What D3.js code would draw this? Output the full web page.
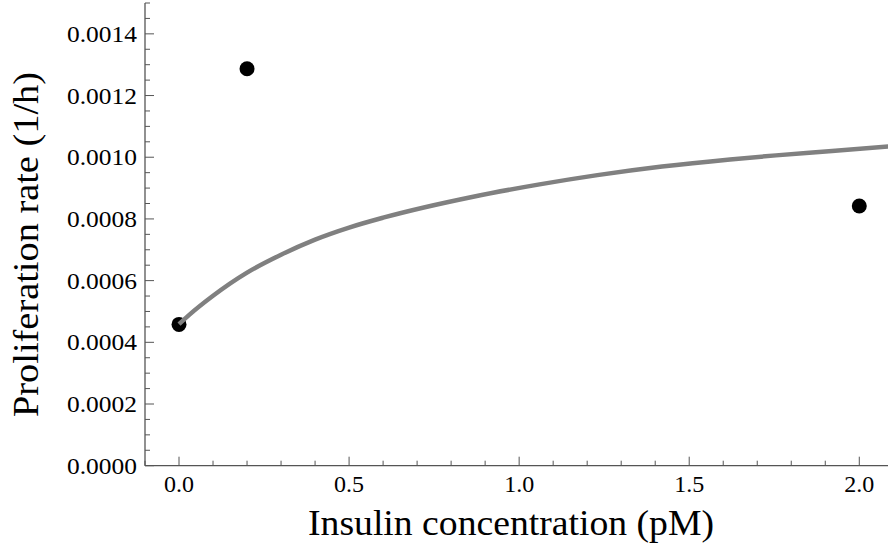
<!DOCTYPE html>
<html><head><meta charset="utf-8">
<script src="https://cdn.jsdelivr.net/npm/d3@7"></script>
<style>body{margin:0;background:#fff}svg{display:block}</style>
</head><body>
<script>
// Data points
const pointX = [0.0, 0.2, 2.0];
const pointY = [0.000458, 0.001287, 0.000842];
// Fitted curve
const curveX = [0.0, 0.03, 0.1, 0.2, 0.3, 0.4, 0.5, 0.6, 0.865, 1.06, 1.23, 1.42, 1.62, 1.755, 1.92, 2.1];
const curveY = [0.000459, 0.000489, 0.000551, 0.000626, 0.000684, 0.000733, 0.000772, 0.000804, 0.000872, 0.000912, 0.000942, 0.000970, 0.000993, 0.001006, 0.001020, 0.001036];
const xTicks = [0.0, 0.5, 1.0, 1.5, 2.0];
const yTicks = [0.0000, 0.0002, 0.0004, 0.0006, 0.0008, 0.0010, 0.0012, 0.0014];

const W = 888, H = 546;
const svg = d3.select("body").append("svg").attr("width", W).attr("height", H);
const x = d3.scaleLinear().domain([-0.1, 2.1]).range([145, 893.3]);
const y = d3.scaleLinear().domain([0, 0.0015]).range([465.7, 3.0]);
const font = "'Liberation Serif', 'Times New Roman', serif";
const axisColor = "#555";

// minor ticks
const xMinor = d3.range(-0.1, 2.101, 0.1).map(v => Math.round(v * 10) / 10);
const yMinor = d3.range(0, 0.001501, 0.00005).map(v => Math.round(v * 1e6) / 1e6);

const g = svg.append("g");
g.selectAll(".xm").data(xMinor).join("line")
  .attr("x1", d => x(d)).attr("x2", d => x(d))
  .attr("y1", y(0)).attr("y2", d => y(0) - (xTicks.some(t => Math.abs(t - d) < 1e-9) ? 9 : 5))
  .attr("stroke", axisColor).attr("stroke-width", 1);
g.selectAll(".ym").data(yMinor).join("line")
  .attr("y1", d => y(d)).attr("y2", d => y(d))
  .attr("x1", x(-0.1)).attr("x2", d => x(-0.1) + (yTicks.some(t => Math.abs(t - d) < 1e-9) ? 9 : 5))
  .attr("stroke", axisColor).attr("stroke-width", 1);

// axis lines
g.append("line").attr("x1", x(-0.1)).attr("x2", W).attr("y1", y(0)).attr("y2", y(0))
  .attr("stroke", axisColor).attr("stroke-width", 1.3);
g.append("line").attr("x1", x(-0.1)).attr("x2", x(-0.1)).attr("y1", y(0)).attr("y2", y(0.0015))
  .attr("stroke", axisColor).attr("stroke-width", 1.3);

// tick labels
g.selectAll(".xl").data(xTicks).join("text")
  .attr("x", d => x(d)).attr("y", 492)
  .attr("text-anchor", "middle").attr("font-family", font).attr("font-size", 23)
  .attr("textLength", 30).attr("lengthAdjust", "spacingAndGlyphs")
  .text(d => d.toFixed(1));
g.selectAll(".yl").data(yTicks).join("text")
  .attr("x", 137).attr("y", d => y(d) + 8)
  .attr("text-anchor", "end").attr("font-family", font).attr("font-size", 23)
  .attr("textLength", 70).attr("lengthAdjust", "spacingAndGlyphs")
  .text(d => d.toFixed(4));

// axis titles
svg.append("text").attr("x", 511).attr("y", 535).attr("text-anchor", "middle")
  .attr("font-family", font).attr("font-size", 36)
  .attr("textLength", 406).attr("lengthAdjust", "spacingAndGlyphs")
  .text("Insulin concentration (pM)");
svg.append("text").attr("transform", "translate(38,244.5) rotate(-90)").attr("text-anchor", "middle")
  .attr("font-family", font).attr("font-size", 36)
  .attr("textLength", 345).attr("lengthAdjust", "spacingAndGlyphs")
  .text("Proliferation rate (1/h)");

// points
const pts = pointX.map((v, i) => [v, pointY[i]]);
svg.selectAll(".pt").data(pts).join("circle")
  .attr("cx", d => x(d[0])).attr("cy", d => y(d[1])).attr("r", 7.5).attr("fill", "#000");

// curve
const cdata = curveX.map((v, i) => [v, curveY[i]]);
svg.append("path").datum(cdata)
  .attr("d", d3.line().x(d => x(d[0])).y(d => y(d[1])).curve(d3.curveMonotoneX))
  .attr("fill", "none").attr("stroke", "#808080").attr("stroke-width", 4.5);
</script>
</body></html>
